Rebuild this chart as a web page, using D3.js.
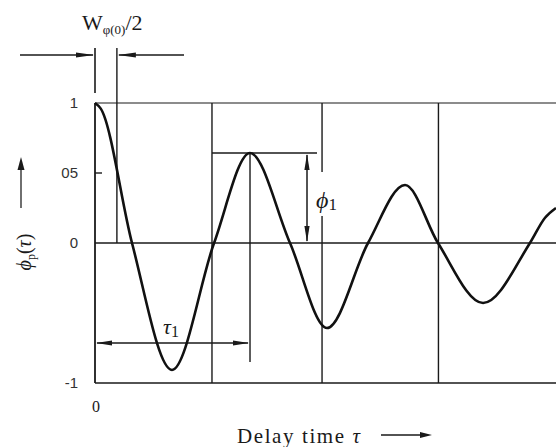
<!DOCTYPE html>
<html>
<head>
<meta charset="utf-8">
<script src="https://cdn.jsdelivr.net/npm/d3@7/dist/d3.min.js"></script>
<style>
  html, body { margin: 0; padding: 0; background: #fff; }
  svg { display: block; }
</style>
</head>
<body>
<svg id="chart" width="556" height="447"></svg>
<script>
// Normalised autocorrelation function φp(τ) against delay time τ:
// starting value, zero crossings and extrema of the decaying oscillation
const tau = [0, 0.05, 0.321, 0.668, 1.033, 1.345, 1.692, 2.013, 2.369, 2.690, 2.976, 3.367, 3.774, 3.905, 4.0];
const phi = [1.0, 0.96, 0, -0.907, 0, 0.643, 0, -0.607, 0, 0.414, 0, -0.429, 0, 0.18, 0.25];

const gridTau = [1.015, 1.97, 2.98];          // vertical reference lines
const yTickValues = [1, 0.5, 0, -1];
const yTickLabels = ["1", "05", "0", "-1"];
const halfWidthTau = 0.19;                    // Wφ(0)/2 marker
const tau1 = 1.345;                           // delay of first peak
const phi1 = 0.643;                           // amplitude of first peak

const svg = d3.select("#chart");
const x = d3.scaleLinear().domain([0, 4]).range([95, 556]);
const y = d3.scaleLinear().domain([-1, 1]).range([383, 103]);

const ink = "#1a1a1a";
const serif = "Liberation Serif, Times New Roman, serif";
const g = svg.append("g");

function line(x1, y1, x2, y2, w, color) {
  return g.append("line").attr("x1", x1).attr("y1", y1).attr("x2", x2).attr("y2", y2)
    .attr("stroke", color || ink).attr("stroke-width", w);
}
// filled arrowhead with its tip at (tx, ty) pointing along angle (radians)
function head(tx, ty, angle, len = 10, half = 3) {
  const c = Math.cos(angle), s = Math.sin(angle);
  const bx = tx - c * len, by = ty - s * len;
  const pts = [[tx, ty], [bx - s * half, by + c * half], [bx + s * half, by - c * half]];
  g.append("path").attr("d", "M" + pts.map(p => p.join(",")).join("L") + "Z").attr("fill", ink);
}

// frame: top, bottom, left and zero lines
const x0 = x(0), x1 = x(4);
line(x0, y(1), x1, y(1), 1.2);
line(x0, y(-1), x1, y(-1), 1.6);
line(x0, y(0), x1, y(0), 1.6);
line(x0, y(1), x0, y(-1), 1.8);

// vertical reference lines
g.selectAll("line.grid").data(gridTau).join("line").attr("class", "grid")
  .attr("x1", d => x(d)).attr("x2", d => x(d))
  .attr("y1", y(1)).attr("y2", y(-1))
  .attr("stroke", ink).attr("stroke-width", 1.4);

// y ticks
g.selectAll("line.ytick").data([0.5]).join("line").attr("class", "ytick")
  .attr("x1", x0).attr("x2", x0 + 7).attr("y1", d => y(d)).attr("y2", d => y(d))
  .attr("stroke", ink).attr("stroke-width", 1.4);
g.selectAll("text.ylab").data(yTickValues).join("text").attr("class", "ylab")
  .attr("x", 78).attr("y", d => y(d) + 5)
  .attr("text-anchor", "end")
  .attr("font-family", "Liberation Sans, Arial, sans-serif")
  .attr("font-size", 15).attr("fill", "#333")
  .text((d, i) => yTickLabels[i]);

// x origin label
g.append("text").attr("x", x(0) + 1).attr("y", 412).attr("text-anchor", "middle")
  .attr("font-family", serif).attr("font-size", 16).attr("fill", ink).text("0");

// Wφ(0)/2 marker
const xw = x(halfWidthTau);
line(x0, 48, x0, 93, 1.6);
line(xw, 48, xw, y(0), 1.4);
line(20, 55, x0 - 2, 55, 1.6);
head(x0 - 1, 55, 0, 18, 2.6);
line(184, 55, xw + 2, 55, 1.6);
head(xw + 1, 55, Math.PI, 18, 2.6);
const wl = g.append("text").attr("x", 82).attr("y", 30)
  .attr("font-family", serif).attr("font-size", 22).attr("fill", ink);
wl.append("tspan").text("W");
wl.append("tspan").attr("font-size", 13).attr("dy", 4).text("φ(0)");
wl.append("tspan").attr("dy", -4).text("/2");

// first peak markers
const xp = x(tau1), yp = y(phi1);
line(x(gridTau[0]), yp, 317, yp, 1.3);
line(xp, yp, xp, 362, 1.4);

// τ1 arrow
line(x0 + 2, 343, xp - 2, 343, 1.5);
head(x0 + 1, 343, Math.PI, 16, 2.6);
head(xp - 1, 343, 0, 16, 2.6);
const t1 = g.append("text").attr("x", 163).attr("y", 334)
  .attr("font-family", serif).attr("font-size", 22).attr("fill", ink);
t1.append("tspan").attr("font-style", "italic").text("τ");
t1.append("tspan").attr("font-size", 16).attr("dy", 3).text("1");

// φ1 arrow
const xa = 307;
line(xa, yp + 2, xa, y(0) - 2, 1.5);
head(xa, yp + 1, -Math.PI / 2, 16, 2.6);
head(xa, y(0) - 1, Math.PI / 2, 16, 2.6);
g.append("rect").attr("x", 316).attr("y", 172).attr("width", 12).attr("height", 44).attr("fill", "#fff");
const p1 = g.append("text").attr("x", 316).attr("y", 208)
  .attr("font-family", serif).attr("font-size", 24).attr("fill", ink);
p1.append("tspan").attr("font-style", "italic").text("ϕ");
p1.append("tspan").attr("font-size", 17).attr("dy", 2).text("1");

// the curve
const pts = tau.map((t, i) => [t, phi[i]]);
g.append("path").datum(pts)
  .attr("d", d3.line().x(d => x(d[0])).y(d => y(d[1])).curve(d3.curveMonotoneX))
  .attr("fill", "none").attr("stroke", "#111").attr("stroke-width", 2.6)
  .attr("stroke-linejoin", "round");

// axis titles
const xt = g.append("text").attr("x", 237).attr("y", 443)
  .attr("font-family", serif).attr("font-size", 21).attr("letter-spacing", 1.6).attr("fill", ink);
xt.append("tspan").text("Delay time  ");
xt.append("tspan").attr("font-style", "italic").text("τ");
line(381, 435, 424, 435, 1.3);
head(432, 435, 0, 12, 3);

const yt = g.append("text")
  .attr("transform", "translate(31,252) rotate(-90)")
  .attr("text-anchor", "middle")
  .attr("font-family", serif).attr("font-size", 20).attr("fill", ink);
yt.append("tspan").attr("font-style", "italic").text("ϕ");
yt.append("tspan").attr("font-size", 12).attr("dy", 4).text("p");
yt.append("tspan").attr("dy", -4).text("(");
yt.append("tspan").attr("font-style", "italic").text("τ");
yt.append("tspan").text(")");
line(21, 208, 21, 168, 1.4, "#333");
head(21, 157, -Math.PI / 2, 13, 3.5);
</script>
</body>
</html>
